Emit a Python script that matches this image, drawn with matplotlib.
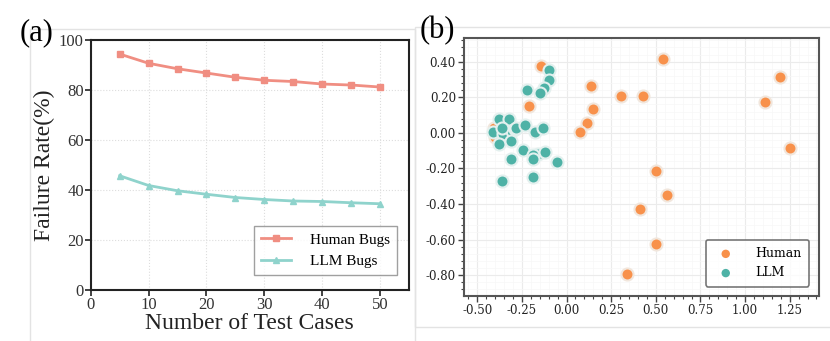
import matplotlib
matplotlib.use("Agg")
import matplotlib.pyplot as plt
from matplotlib.patches import Rectangle
from matplotlib.ticker import AutoMinorLocator, FormatStrFormatter, MultipleLocator

# (a) failure rate vs number of test cases
test_cases = [5, 10, 15, 20, 25, 30, 35, 40, 45, 50]
human_rate = [94.4, 90.7, 88.5, 86.8, 85.1, 83.9, 83.4, 82.4, 82.0, 81.2]
llm_rate = [45.7, 41.8, 39.7, 38.3, 37.0, 36.2, 35.6, 35.4, 34.9, 34.5]

# (b) 2-d embedding of bugs
human_x = [0.539, 1.194, 1.113, 1.252, 0.135, 0.307, 0.427, 0.150, 0.116, 0.075,
           -0.209, -0.145, 0.499, 0.563, 0.413, 0.503, 0.339, -0.405, -0.400]
human_y = [0.417, 0.314, 0.173, -0.087, 0.262, 0.207, 0.207, 0.134, 0.057, 0.005,
           0.151, 0.376, -0.217, -0.350, -0.430, -0.624, -0.796, 0.025, -0.025]
llm_x = [-0.100, -0.100, -0.126, -0.150, -0.222, -0.377, -0.324, -0.410, -0.354, -0.307,
         -0.290, -0.285, -0.360, -0.233, -0.177, -0.130, -0.378, -0.311, -0.242, -0.160,
         -0.190, -0.120, -0.188, -0.313, -0.055, -0.186, -0.363]
llm_y = [0.353, 0.297, 0.250, 0.222, 0.239, 0.076, 0.076, 0.003, -0.008, 0.010,
         0.020, 0.025, 0.030, 0.042, 0.006, 0.025, -0.063, -0.048, -0.098, -0.120,
         -0.125, -0.110, -0.145, -0.146, -0.165, -0.247, -0.272]

HUMAN_LINE = "#F08E82"
LLM_LINE = "#8FD3CC"
HUMAN_DOT = "#F8914B"
LLM_DOT = "#4EB2A6"

fig = plt.figure(figsize=(8.3, 3.41), dpi=100)

# light panel boxes behind each subplot
fig.patches.append(Rectangle((0.036, -0.01), 0.464, 0.925, transform=fig.transFigure,
                             fill=False, edgecolor="#e3e3e3", linewidth=1.0, zorder=0))
fig.patches.append(Rectangle((0.5, 0.042), 0.51, 0.880, transform=fig.transFigure,
                             fill=False, edgecolor="#e3e3e3", linewidth=1.0, zorder=0))

# ---- panel (a)
serif = "Liberation Serif"
ax1 = fig.add_axes([0.1093, 0.1496, 0.3835, 0.733])
ax1.plot(test_cases, human_rate, color=HUMAN_LINE, marker="s", markersize=5,
         linewidth=2, label="Human Bugs")
ax1.plot(test_cases, llm_rate, color=LLM_LINE, marker="^", markersize=5,
         linewidth=2, label="LLM Bugs")
ax1.set_xlim(0, 55)
ax1.set_ylim(0, 100)
ax1.set_xticks(range(0, 51, 10))
ax1.set_yticks(range(0, 101, 20))
ax1.grid(True, linestyle=":", color="#dddddd", linewidth=0.8)
ax1.set_axisbelow(True)
for s in ax1.spines.values():
    s.set_color("#222222")
    s.set_linewidth(1.5)
ax1.tick_params(direction="out", length=4, width=1.2, colors="#222222",
                labelsize=12, pad=1)
for lab in ax1.get_xticklabels() + ax1.get_yticklabels():
    lab.set_fontfamily(serif)
    lab.set_color("#333333")
ax1.set_xlabel("Number of Test Cases", fontfamily=serif, fontsize=17, labelpad=0,
               color="#222222")
ax1.set_ylabel("Failure Rate(%)", fontfamily=serif, fontsize=17, labelpad=3,
               color="#222222")
leg1 = ax1.legend(loc="lower right", prop={"family": serif, "size": 11},
                  fancybox=False, edgecolor="#888888", handlelength=2.0,
                  handletextpad=1.2, borderpad=0.45, bbox_to_anchor=(0.985, 0.03))
leg1.get_frame().set_linewidth(1.0)
fig.text(0.024, 0.905, "(a)", fontfamily=serif, fontsize=22, va="center")

# ---- panel (b)
dserif = "DejaVu Serif"
ax2 = fig.add_axes([0.5594, 0.1328, 0.4277, 0.7566])
ax2.scatter(human_x, human_y, s=75, color=HUMAN_DOT, edgecolors="#f1e6dc",
            linewidths=1.5, label="Human", zorder=3)
ax2.scatter(llm_x, llm_y, s=75, color=LLM_DOT, edgecolors="#e3f0ee",
            linewidths=1.5, label="LLM", zorder=3)
ax2.set_xlim(-0.573, 1.416)
ax2.set_ylim(-0.916, 0.535)
ax2.xaxis.set_major_locator(MultipleLocator(0.25))
ax2.yaxis.set_major_locator(MultipleLocator(0.2))
ax2.xaxis.set_minor_locator(AutoMinorLocator(5))
ax2.yaxis.set_minor_locator(AutoMinorLocator(5))
ax2.xaxis.set_major_formatter(FormatStrFormatter("%.2f"))
ax2.yaxis.set_major_formatter(FormatStrFormatter("%.2f"))
ax2.grid(True, which="major", color="#ebebeb", linewidth=0.8)
ax2.grid(True, which="minor", color="#f7f7f7", linewidth=0.5)
ax2.set_axisbelow(True)
for s in ax2.spines.values():
    s.set_color("#555555")
    s.set_linewidth(1.5)
ax2.tick_params(which="major", direction="out", length=4, width=1.0,
                colors="#444444", labelsize=8.5, pad=2)
ax2.tick_params(which="minor", direction="out", length=2, width=0.8, colors="#444444")
for lab in ax2.get_xticklabels() + ax2.get_yticklabels():
    lab.set_fontfamily(dserif)
    lab.set_color("#222222")
leg2 = ax2.legend(loc="lower right", prop={"family": dserif, "size": 9},
                  fancybox=True, edgecolor="#555555", markerscale=0.7,
                  handletextpad=1.4, borderpad=0.6, bbox_to_anchor=(0.99, 0.01))
leg2.get_frame().set_linewidth(1.2)
for h in leg2.legend_handles:
    h.set_edgecolor("none")
fig.text(0.506, 0.91, "(b)", fontfamily=serif, fontsize=22, va="center")

fig.savefig("out.png", dpi=100)
